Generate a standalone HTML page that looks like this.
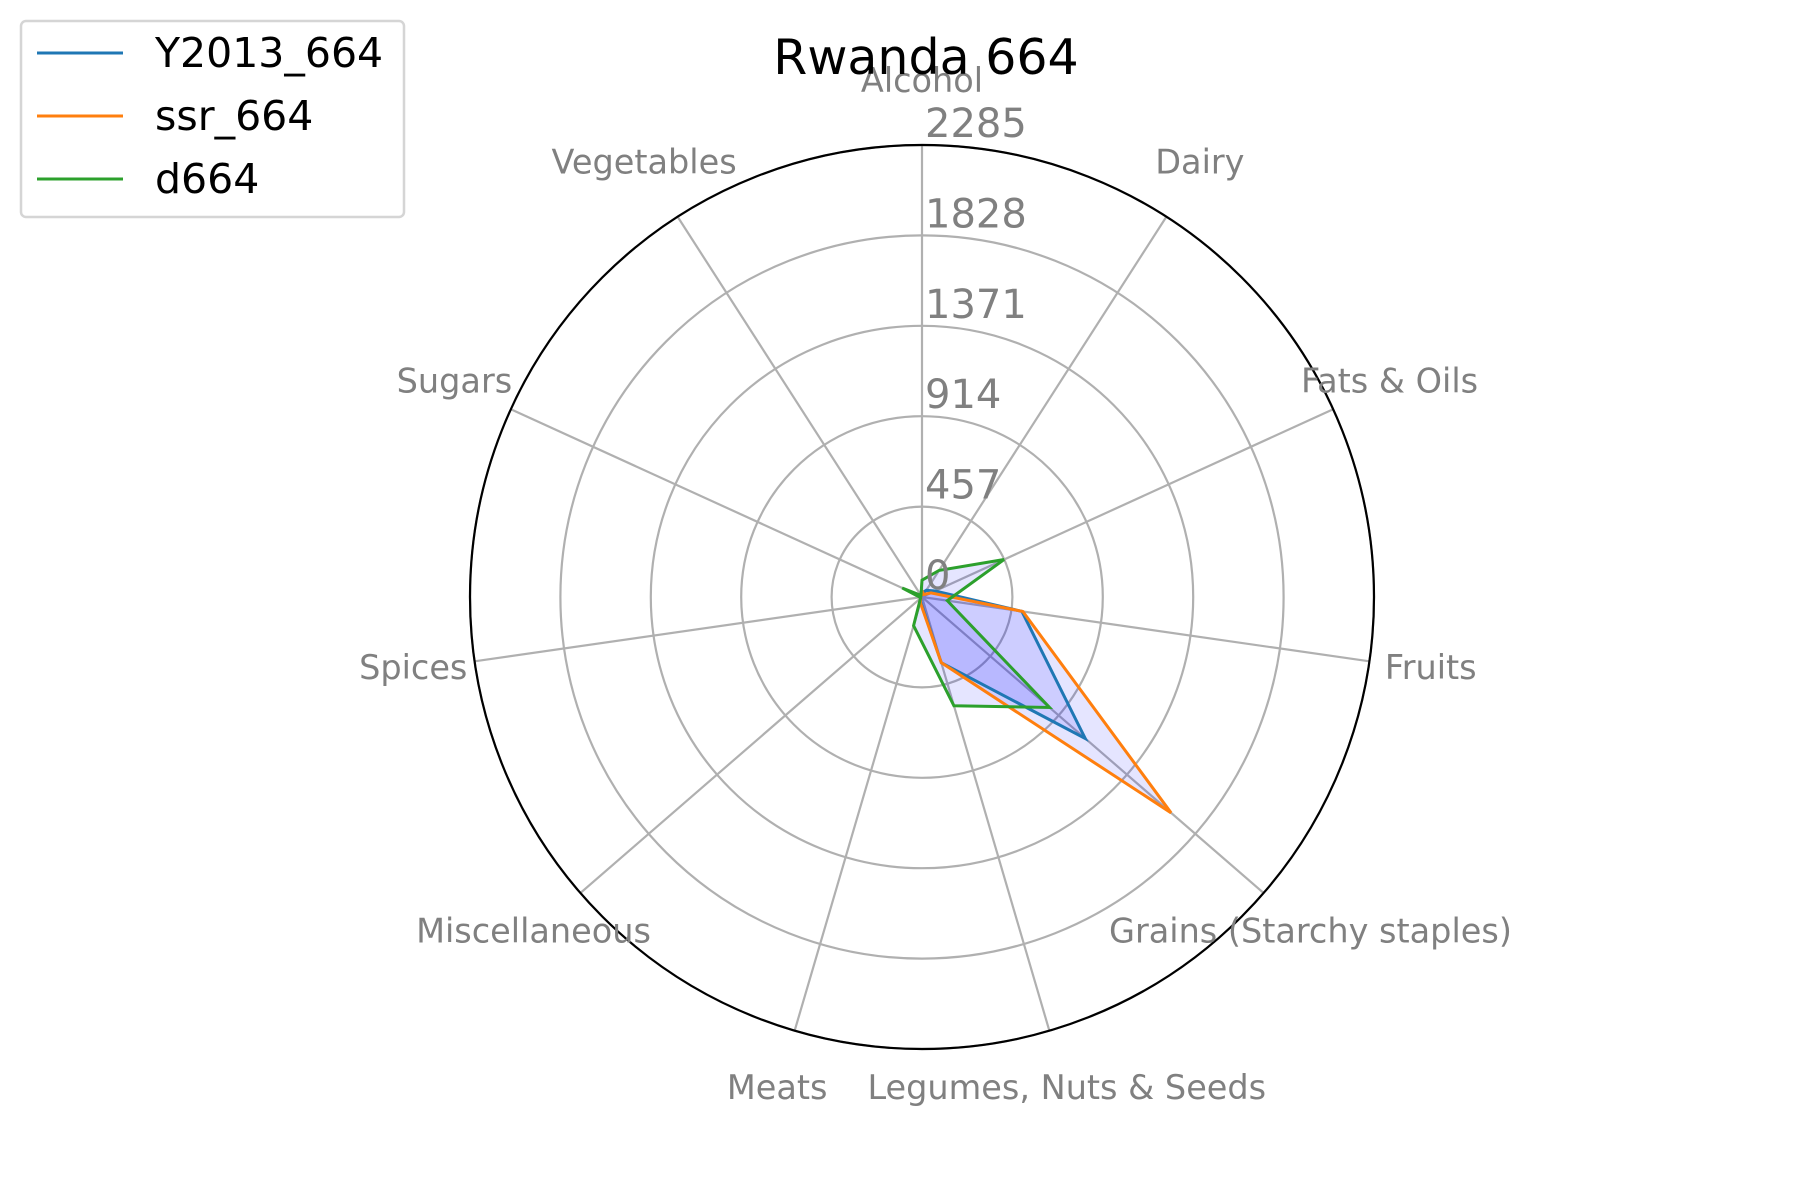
<!DOCTYPE html>
<html><head><meta charset="utf-8"><style>
html,body{margin:0;padding:0;background:#fff;}
svg{display:block;font-family:"DejaVu Sans","Liberation Sans",sans-serif;}
</style></head><body>
<svg id="chart" width="1800" height="1200" viewBox="0 0 1800 1200">
<g id="grid"></g>
<g id="fills"></g>
<g id="lines"></g>
<g id="labels"></g>
<g id="ticks"></g>
<text x="926" y="74" text-anchor="middle" font-size="49" fill="#000">Rwanda 664</text>
<g>
<rect x="21" y="21" width="383" height="196" rx="5" fill="#fff" fill-opacity="0.8" stroke="#d5d5d5" stroke-width="2.5"/>
<line x1="37" y1="53" x2="123" y2="53" stroke="#1f77b4" stroke-width="3"/>
<text x="155" y="67" font-size="41">Y2013_664</text>
<line x1="37" y1="116" x2="123" y2="116" stroke="#ff7f0e" stroke-width="3"/>
<text x="155" y="130" font-size="41">ssr_664</text>
<line x1="37" y1="179" x2="123" y2="179" stroke="#2ca02c" stroke-width="3"/>
<text x="155" y="193" font-size="41">d664</text>
</g>
</svg>
<script>
const categories = ["Alcohol","Dairy","Fats & Oils","Fruits","Grains (Starchy staples)","Legumes, Nuts & Seeds","Meats","Miscellaneous","Spices","Sugars","Vegetables"];
const seriesNames = ["Y2013_664","ssr_664","d664"];
const y2013Values = [20, 40, 73, 510, 1092, 346, 25, 8, 8, 10, 8];
const ssrValues = [30, 15, 50, 515, 1666, 346, 30, 8, 8, 10, 8];
const d664Values = [85, 160, 456, 129, 853, 573, 151, 10, 10, 110, 10];
const tickValues = [0, 457, 914, 1371, 1828, 2285];
const tickLabels = ["0","457","914","1371","1828","2285"];
const rMax = 2285;

const NS = "http://www.w3.org/2000/svg";
const cx = 922, cy = 597, R = 452;
const colors = ["#1f77b4","#ff7f0e","#2ca02c"];
const allSeries = [y2013Values, ssrValues, d664Values];
function ang(i){ return i * 2 * Math.PI / categories.length; }
function rScale(v){ return v / rMax * R; }
function pt(i, v){ const a = ang(i), r = rScale(v); return [cx + r*Math.sin(a), cy - r*Math.cos(a)]; }
function mk(tag, attrs, parent){ const e = document.createElementNS(NS, tag); for (const k in attrs) e.setAttribute(k, attrs[k]); parent.appendChild(e); return e; }

const grid = document.getElementById("grid");
tickValues.forEach((t, k) => {
  if (t === 0) return;
  const c = mk("circle", {cx: cx, cy: cy, r: rScale(t), fill: "none", stroke: "#b0b0b0", "stroke-width": 2.2}, grid);
  
  
});
categories.forEach((c, i) => {
  const p = pt(i, rMax);
  const l = mk("line", {x1: cx, y1: cy, x2: p[0], y2: p[1], stroke: "#b0b0b0", "stroke-width": 2.2}, grid);
  
  
});
const outer = mk("circle", {cx: cx, cy: cy, r: R, fill: "none", stroke: "#000", "stroke-width": 2.2}, grid);



const fills = document.getElementById("fills"), lines = document.getElementById("lines");
allSeries.forEach((vals, s) => {
  const pts = vals.map((v, i) => pt(i, v).join(",")).join(" ");
  const f = mk("polygon", {points: pts, fill: "#0000ff", "fill-opacity": 0.1, stroke: "none"}, fills);
  
  
  const l = mk("polygon", {points: pts, fill: "none", stroke: colors[s], "stroke-width": 3, "stroke-linejoin": "miter"}, lines);
  
  
});

const labels = document.getElementById("labels");
categories.forEach((c, i) => {
  const a = ang(i), r = 514;
  const x = cx + r*Math.sin(a), y = cy - r*Math.cos(a);
  const t = mk("text", {x: x, y: y + 9, "text-anchor": "middle", "font-size": 33.5, fill: "#808080"}, labels);
  t.textContent = c;
  
  
});

const ticks = document.getElementById("ticks");
tickValues.forEach((v, k) => {
  const t = mk("text", {x: 925, y: cy - rScale(v) - 8, "font-size": 40, fill: "#808080"}, ticks);
  t.textContent = tickLabels[k];
  
  
});
</script>
</body></html>
